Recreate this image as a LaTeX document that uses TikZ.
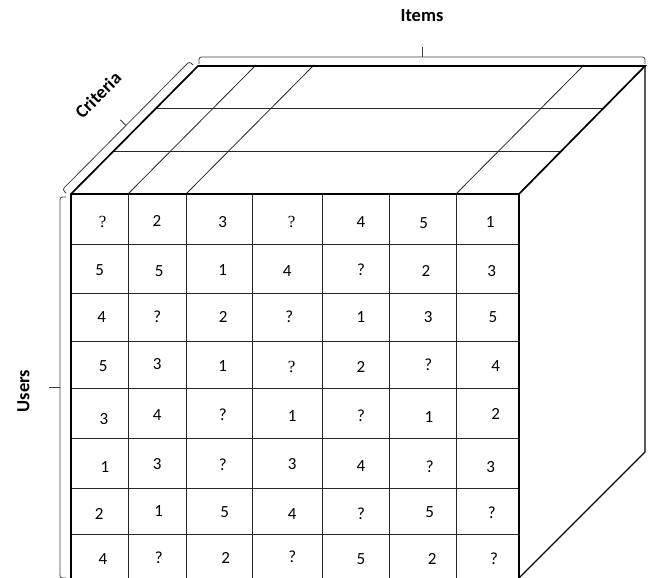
\documentclass[tikz,border=0pt]{standalone}
\usepackage{fontspec}
\setmainfont{Carlito}
\newfontfamily\qfont{Liberation Serif}
\usetikzlibrary{calc}
\newcommand\mybrk[4]{% #1 start, #2 end, #3 depth, #4 tip length
  \coordinate (#1m) at ($(#1)!0.5!(#2)$);
  \coordinate (#1a) at ($(#1)!#3!90:(#2)$);
  \coordinate (#1b) at ($(#2)!#3!-90:(#1)$);
  \coordinate (#1t) at ($(#1m)!#4!90:(#2)$);
  \draw[brk, rounded corners=2.5pt] (#1) -- (#1a) -- (#1b) -- (#2);
  \draw[brk] ($(#1m)!#3!90:(#2)$) -- (#1t);
}
\begin{document}
\begin{tikzpicture}[x=1pt,y=-1pt,
  gridline/.style={line width=0.8pt, black!85},
  edge/.style={line width=1.7pt},
  medge/.style={line width=1.2pt},
  cell/.style={font=\fontsize{17}{17}\selectfont, inner sep=0pt},
  lbl/.style={font=\fontsize{18.5}{18.5}\selectfont\bfseries, inner sep=0pt},
  brk/.style={line width=0.8pt, black!75}]
\useasboundingbox (0,0) rectangle (648,578);
% corners
\coordinate (FTL) at (71,194);
\coordinate (FTR) at (519,194);
\coordinate (FBL) at (71,578);
\coordinate (FBR) at (519,578);
\coordinate (BTL) at (198,66);
\coordinate (BTR) at (645,66);
\coordinate (BBR) at (645,452);
% front grid
\foreach \x in {128,186,252,322,389,456}
  \draw[gridline] (\x,194) -- (\x,578);
\foreach \y in {244,293,341,388,438,488,534}
  \draw[gridline] (71,\y) -- (519,\y);
% top face grid
\draw[gridline] (113.3,151.3) -- (561.3,151.3);
\draw[gridline] (155.7,108.7) -- (603.7,108.7);
\foreach \x in {128,186,456}
  \draw[gridline] (\x,194) -- ++(128,-129);
% outline
\draw[edge] (FBL) -- (FTL) -- (FTR);
\draw[edge] (FTL) -- (BTL) -- (BTR) -- (FTR);
\draw[medge] (FTR) -- (FBR);
\draw[medge] (BTR) -- (BBR) -- (FBR);
% cells
\foreach \x/\y/\t [count=\i] in {
  102.7/221.7/{\qfont ?}, 157/221/2, 222.7/221.7/3, 291.7/221.7/{\qfont ?}, 361/221.7/4, 423.7/222.7/5, 490.3/221.7/1,
  99.7/270/5, 159.3/270.7/5, 222.7/270/1, 287.3/270.7/4, 361/270/?, 426/270.7/2, 491.7/270.7/3,
  101.7/316.7/4, 157.3/316.7/?, 223.3/317.3/2, 289.3/316.7/?, 361/317.3/1, 428.3/317.3/3, 493/317.3/5,
  103.3/365.7/5, 157.3/364.3/3, 222.7/365.7/1, 291.7/367.3/{\qfont ?}, 361/367.3/2, 428.3/365/?, 495.7/366/4,
  104/419.3/3, 157.3/415/4, 222.7/414.3/?, 292.3/415.7/1, 361/415.7/?, 429/416.7/1, 495.7/414.3/2,
  105/466.7/1, 157.3/464/3, 222.7/465/?, 292.3/464/3, 361/465.7/4, 429.7/466.7/?, 490.7/467.3/3,
  99.3/514.3/2, 158.7/511/1, 224.7/512.3/5, 292.3/514/4, 361/514/?, 429.7/512.3/5, 491.7/512.3/?,
  103/559/4, 158.7/557.3/?, 225.7/558.3/2, 292.3/556.7/?, 361/559/5, 432.3/559/2, 494/559/?}
  \node[cell] (c\i) at (\x,\y) {\t};
% brackets
\coordinate (ib) at (199,64);
\coordinate (ie) at (645,64);
\mybrk{ib}{ie}{7pt}{17pt}
\coordinate (ub) at (66,578);
\coordinate (ue) at (66,197);
\mybrk{ub}{ue}{6pt}{17pt}
\coordinate (cb) at (66,193);
\coordinate (ce) at (193,65);
\mybrk{cb}{ce}{5pt}{13pt}
% labels
\node[lbl] (items) at (422,16) {Items};
\node[lbl, rotate=90] (users) at (23.5,391) {Users};
\node[lbl, rotate=45] (criteria) at (98,95) {Criteria};
\end{tikzpicture}
\end{document}
